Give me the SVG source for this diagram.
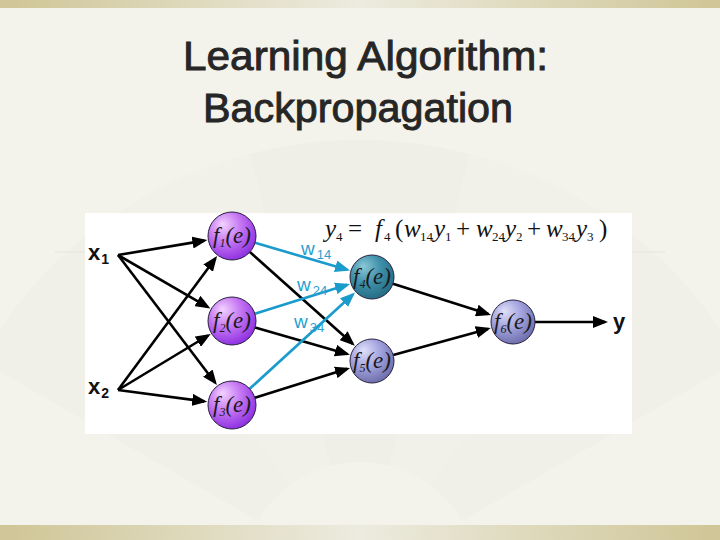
<svg xmlns="http://www.w3.org/2000/svg" width="720" height="540" viewBox="0 0 720 540">
<style>
.title{font-family:"Liberation Sans",Arial,sans-serif;font-size:40px;fill:#262626;stroke:#262626;stroke-width:0.9;}
.bk{stroke:#000;stroke-width:2.6;fill:none;marker-end:url(#ah);}
.bl{stroke:#1a9bcc;stroke-width:2.6;fill:none;marker-end:url(#ahb);}
.nl{font-family:"Liberation Serif","Times New Roman",serif;font-style:italic;font-size:23px;fill:#1a1a1a;}
.ns{font-size:12px;}
.xl{font-family:"Liberation Sans",Arial,sans-serif;font-weight:bold;font-size:22px;fill:#111;}
.xs{font-size:14px;}
.wl{font-family:"Liberation Sans",Arial,sans-serif;font-size:19px;fill:#2a9fd0;}
.ws{font-size:13px;}
.eq{font-family:"Liberation Serif","Times New Roman",serif;font-size:25px;fill:#111;}
.ei{font-style:italic;}
.es{font-size:13px;}
.outl{stroke:#2a2040;stroke-width:1;}
</style>
<defs>
<linearGradient id="band" x1="0" y1="0" x2="1" y2="0">
<stop offset="0" stop-color="#cfc596"/>
<stop offset="0.5" stop-color="#ecebdf"/>
<stop offset="1" stop-color="#cfc596"/>
</linearGradient>
<radialGradient id="gp" cx="0.4" cy="0.35" r="0.7" fx="0.3" fy="0.25">
<stop offset="0" stop-color="#f3d2ff"/>
<stop offset="0.5" stop-color="#c374f2"/>
<stop offset="1" stop-color="#8a2be0"/>
</radialGradient>
<radialGradient id="gt" cx="0.4" cy="0.35" r="0.7" fx="0.3" fy="0.25">
<stop offset="0" stop-color="#8cc8d8"/>
<stop offset="0.5" stop-color="#3f90aa"/>
<stop offset="1" stop-color="#226a80"/>
</radialGradient>
<radialGradient id="gl" cx="0.4" cy="0.35" r="0.7" fx="0.3" fy="0.25">
<stop offset="0" stop-color="#e0e0fa"/>
<stop offset="0.5" stop-color="#a2a2de"/>
<stop offset="1" stop-color="#6a6aa8"/>
</radialGradient>
<marker id="ah" markerUnits="userSpaceOnUse" markerWidth="16" markerHeight="12" refX="12" refY="6" orient="auto">
<path d="M0,0 L15,6 L0,12 z" fill="#000"/>
</marker>
<marker id="ahb" markerUnits="userSpaceOnUse" markerWidth="16" markerHeight="12" refX="12" refY="6" orient="auto">
<path d="M0,0 L15,6 L0,12 z" fill="#1a9bcc"/>
</marker>
</defs>

<rect x="0" y="0" width="720" height="540" fill="#f4f3eb"/>
<g id="fan" opacity="0.45">
<path d="M360,580 L-20,360 A440,440 0 0 1 100,225 Z" fill="#ecece5"/>
<path d="M360,580 L100,225 A440,440 0 0 1 250,154 Z" fill="#efefe8"/>
<path d="M360,580 L250,154 A440,440 0 0 1 470,154 Z" fill="#ebebe4"/>
<path d="M360,580 L470,154 A440,440 0 0 1 620,225 Z" fill="#efefe8"/>
<path d="M360,580 L620,225 A440,440 0 0 1 740,360 Z" fill="#ecece5"/>
<circle cx="360" cy="580" r="118" fill="#f4f3eb"/>
<line x1="55" y1="252" x2="665" y2="252" stroke="#d6d6ce" stroke-width="1"/>
</g>
<rect x="0" y="0" width="720" height="8" fill="url(#band)"/>
<rect x="0" y="525" width="720" height="15" fill="url(#band)"/>

<text class="title" x="183" y="70" textLength="365" lengthAdjust="spacingAndGlyphs">Learning Algorithm:</text>
<text class="title" x="203" y="122" textLength="310" lengthAdjust="spacingAndGlyphs">Backpropagation</text>

<rect x="85" y="213" width="547" height="221" fill="#ffffff"/>

<g id="equation" class="eq">
<text x="325" y="237" class="ei">y</text>
<text x="336" y="241" class="es">4</text>
<text x="348" y="237">=</text>
<text x="375" y="237" class="ei">f</text>
<text x="384" y="241" class="es">4</text>
<text x="395" y="237">(</text>
<text x="404" y="237" class="ei">w</text>
<text x="420" y="241" class="es">14</text>
<text x="434" y="237" class="ei">y</text>
<text x="445" y="241" class="es">1</text>
<text x="456" y="237">+</text>
<text x="476" y="237" class="ei">w</text>
<text x="492" y="241" class="es">24</text>
<text x="505" y="237" class="ei">y</text>
<text x="516" y="241" class="es">2</text>
<text x="527" y="237">+</text>
<text x="546" y="237" class="ei">w</text>
<text x="562" y="241" class="es">34</text>
<text x="576" y="237" class="ei">y</text>
<text x="587" y="241" class="es">3</text>
<text x="599" y="237">)</text>
</g>

<g id="connectors">
<line class="bk" x1="118" y1="255" x2="204.4" y2="240.6"/>
<line class="bk" x1="118" y1="255" x2="207.8" y2="307.0"/>
<line class="bk" x1="118" y1="255" x2="215.1" y2="382.7"/>
<line class="bk" x1="118" y1="390" x2="215.3" y2="258.5"/>
<line class="bk" x1="118" y1="390" x2="208.1" y2="335.5"/>
<line class="bk" x1="118" y1="390" x2="204.2" y2="401.4"/>
<line class="bk" x1="249.9" y1="252.0" x2="352.6" y2="343.7"/>
<line class="bk" x1="255.1" y1="327.6" x2="347.0" y2="353.9"/>
<line class="bk" x1="254.9" y1="397.8" x2="347.2" y2="368.8"/>
<line class="bk" x1="393.0" y1="283.7" x2="488.2" y2="314.1"/>
<line class="bk" x1="393.2" y1="355.1" x2="487.9" y2="328.9"/>
<line class="bk" x1="535" y1="322" x2="605" y2="322"/>
<line class="bl" x1="255.0" y1="242.8" x2="347.1" y2="269.7"/>
<line class="bl" x1="254.9" y1="313.8" x2="347.2" y2="284.8"/>
<line class="bl" x1="249.7" y1="388.8" x2="352.8" y2="294.5"/>
</g>

<g id="weights" class="wl">
<text x="301" y="255">w<tspan class="ws" dx="2" dy="4">14</tspan></text>
<text x="297" y="291">w<tspan class="ws" dx="2" dy="4">24</tspan></text>
<text x="294" y="328">w<tspan class="ws" dx="2" dy="4">34</tspan></text>
</g>

<g id="x1"><text class="xl" x="88" y="260">x<tspan class="xs" dx="1" dy="4">1</tspan></text></g>
<g id="x2"><text class="xl" x="88" y="394">x<tspan class="xs" dx="1" dy="4">2</tspan></text></g>
<g id="y"><text class="xl" x="613" y="329">y</text></g>

<g id="f1"><circle class="outl" cx="232" cy="236" r="24" fill="url(#gp)"/>
<text class="nl" x="232" y="243" text-anchor="middle">f<tspan class="ns" dy="4">1</tspan><tspan dy="-4">(e)</tspan></text></g>
<g id="f2"><circle class="outl" cx="232" cy="321" r="24" fill="url(#gp)"/>
<text class="nl" x="232" y="328" text-anchor="middle">f<tspan class="ns" dy="4">2</tspan><tspan dy="-4">(e)</tspan></text></g>
<g id="f3"><circle class="outl" cx="232" cy="405" r="24" fill="url(#gp)"/>
<text class="nl" x="232" y="412" text-anchor="middle">f<tspan class="ns" dy="4">3</tspan><tspan dy="-4">(e)</tspan></text></g>
<g id="f4"><circle class="outl" cx="372" cy="277" r="22" fill="url(#gt)"/>
<text class="nl" x="372" y="284" text-anchor="middle">f<tspan class="ns" dy="4">4</tspan><tspan dy="-4">(e)</tspan></text></g>
<g id="f5"><circle class="outl" cx="372" cy="361" r="22" fill="url(#gl)"/>
<text class="nl" x="372" y="368" text-anchor="middle">f<tspan class="ns" dy="4">5</tspan><tspan dy="-4">(e)</tspan></text></g>
<g id="f6"><circle class="outl" cx="513" cy="322" r="22" fill="url(#gl)"/>
<text class="nl" x="513" y="329" text-anchor="middle">f<tspan class="ns" dy="4">6</tspan><tspan dy="-4">(e)</tspan></text></g>
</svg>
